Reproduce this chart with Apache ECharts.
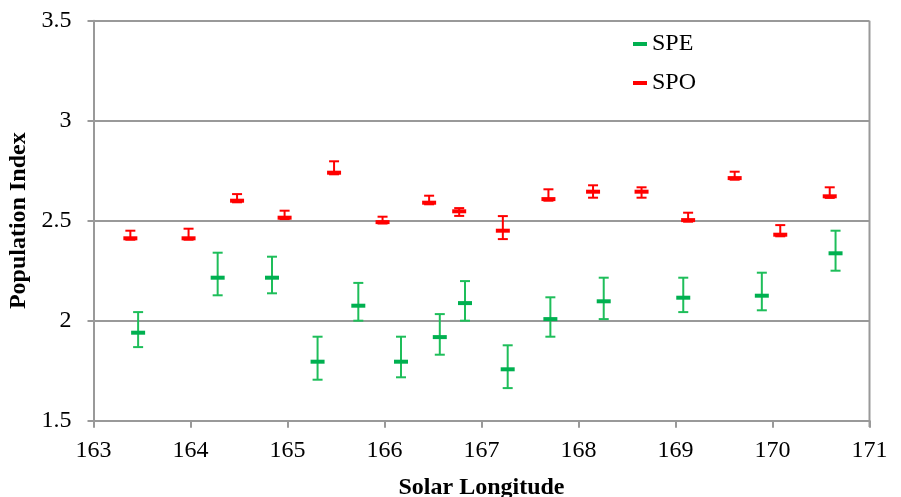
<!DOCTYPE html>
<html>
<head>
<meta charset="utf-8">
<script src="https://cdn.jsdelivr.net/npm/echarts@6/dist/echarts.min.js"></script>
<style>
  html, body { margin: 0; padding: 0; background: #fff; }
  #chart { width: 901px; height: 497px; }
</style>
</head>
<body>
<div id="chart"></div>
<script>
// SPE (green)
const speX    = [163.46, 164.28, 164.84, 165.31, 165.73, 166.17, 166.57, 166.83, 167.27, 167.71, 168.26, 169.08, 169.89, 170.65];
const speMean = [1.94, 2.215, 2.215, 1.795, 2.075, 1.795, 1.918, 2.088, 1.757, 2.008, 2.097, 2.115, 2.125, 2.337];
const speLow  = [1.868, 2.127, 2.137, 1.705, 2.0, 1.717, 1.83, 2.0, 1.663, 1.92, 2.008, 2.043, 2.052, 2.25];
const speHigh = [2.043, 2.34, 2.32, 1.92, 2.189, 1.92, 2.033, 2.198, 1.877, 2.117, 2.215, 2.215, 2.24, 2.45];

// SPO (red)
const spoX    = [163.38, 163.98, 164.48, 164.97, 165.48, 165.98, 166.46, 166.77, 167.22, 167.69, 168.15, 168.65, 169.13, 169.61, 170.08, 170.59];
const spoMean = [2.412, 2.412, 2.6, 2.515, 2.74, 2.493, 2.59, 2.547, 2.45, 2.608, 2.645, 2.645, 2.503, 2.713, 2.43, 2.622];
const spoLow  = [2.405, 2.405, 2.592, 2.508, 2.732, 2.486, 2.582, 2.524, 2.408, 2.6, 2.615, 2.615, 2.495, 2.705, 2.422, 2.614];
const spoHigh = [2.45, 2.46, 2.633, 2.55, 2.797, 2.52, 2.625, 2.563, 2.523, 2.657, 2.677, 2.667, 2.54, 2.745, 2.478, 2.667];

const xTicks = [163, 164, 165, 166, 167, 168, 169, 170, 171];
const yTicks = [1.5, 2, 2.5, 3, 3.5];

const green = '#00b050';
const greenBar = '#1ebe5a';
const red = '#ff0000';
const serif = '"Liberation Serif", "Times New Roman", serif';

const zip = (xs, a, b) => xs.map((x, i) => [x, a[i], b[i]]);

// error bar drawn with the axis scales
function errorBar(color) {
  return function (params, api) {
    const x = api.value(0);
    const lo = api.coord([x, api.value(1)]);
    const hi = api.coord([x, api.value(2)]);
    const w = 5;
    const style = { stroke: color, lineWidth: 2, fill: null };
    return {
      type: 'group',
      children: [
        { type: 'line', shape: { x1: hi[0], y1: hi[1], x2: lo[0], y2: lo[1] }, style },
        { type: 'line', shape: { x1: hi[0] - w, y1: hi[1], x2: hi[0] + w, y2: hi[1] }, style },
        { type: 'line', shape: { x1: lo[0] - w, y1: lo[1], x2: lo[0] + w, y2: lo[1] }, style }
      ]
    };
  };
}

const myChart = echarts.init(document.getElementById('chart'));

const option = {
  animation: false,
  backgroundColor: '#fff',
  grid: { left: 93.5, right: 31.5, top: 20.7, bottom: 76.3, containLabel: false, outerBoundsMode: 'none' },
  legend: {
    orient: 'vertical',
    left: 628,
    top: 27,
    itemGap: 15,
    itemWidth: 14,
    itemHeight: 4,
    textStyle: { fontFamily: serif, fontSize: 24, color: '#000' },
    data: [
      { name: 'SPE', icon: 'rect', itemStyle: { color: green } },
      { name: 'SPO', icon: 'rect', itemStyle: { color: red } }
    ]
  },
  xAxis: {
    type: 'value',
    min: 163,
    max: 171,
    interval: 1,
    name: 'Solar Longitude',
    nameLocation: 'middle',
    nameGap: 55,
    nameTextStyle: { fontFamily: serif, fontSize: 24, fontWeight: 'bold', color: '#000' },
    axisLine: { show: true, lineStyle: { color: '#999', width: 2 } },
    axisTick: { show: true, length: 7, lineStyle: { color: '#999', width: 2 } },
    axisLabel: {
      margin: 18,
      fontFamily: serif, fontSize: 24, color: '#000',
      formatter: v => xTicks.includes(v) ? String(v) : ''
    },
    splitLine: { show: false }
  },
  yAxis: {
    type: 'value',
    min: 1.5,
    max: 3.5,
    interval: 0.5,
    name: 'Population Index',
    nameLocation: 'middle',
    nameGap: 60,
    nameTextStyle: { fontFamily: serif, fontSize: 24, fontWeight: 'bold', color: '#000' },
    axisLine: { show: true, lineStyle: { color: '#999', width: 2 } },
    axisTick: { show: true, length: 6, lineStyle: { color: '#999', width: 2 } },
    axisLabel: {
      margin: 22,
      fontFamily: serif, fontSize: 24, color: '#000',
      formatter: v => yTicks.includes(v) ? String(v) : ''
    },
    splitLine: { show: true, lineStyle: { color: '#999', width: 2 } }
  },
  series: [
    {
      name: 'SPE',
      type: 'custom',
      renderItem: errorBar(greenBar),
      data: zip(speX, speLow, speHigh),
      silent: true,
      z: 2
    },
    {
      name: 'SPO',
      type: 'custom',
      renderItem: errorBar(red),
      data: zip(spoX, spoLow, spoHigh),
      silent: true,
      z: 2
    },
    {
      name: 'SPE',
      type: 'scatter',
      symbol: 'rect',
      symbolSize: [14, 4],
      itemStyle: { color: green, opacity: 1 },
      data: speX.map((x, i) => [x, speMean[i]]),
      z: 3
    },
    {
      name: 'SPO',
      type: 'scatter',
      symbol: 'rect',
      symbolSize: [14, 4],
      itemStyle: { color: red, opacity: 1 },
      data: spoX.map((x, i) => [x, spoMean[i]]),
      z: 3
    }
  ],
  graphic: [
    // right plot border
    { type: 'line', shape: { x1: 869.5, y1: 20.7, x2: 869.5, y2: 427 }, style: { stroke: '#999', lineWidth: 2 } }
  ]
};

myChart.setOption(option);

window.addEventListener('resize', () => {
  myChart.resize();
});
</script>
</body>
</html>
